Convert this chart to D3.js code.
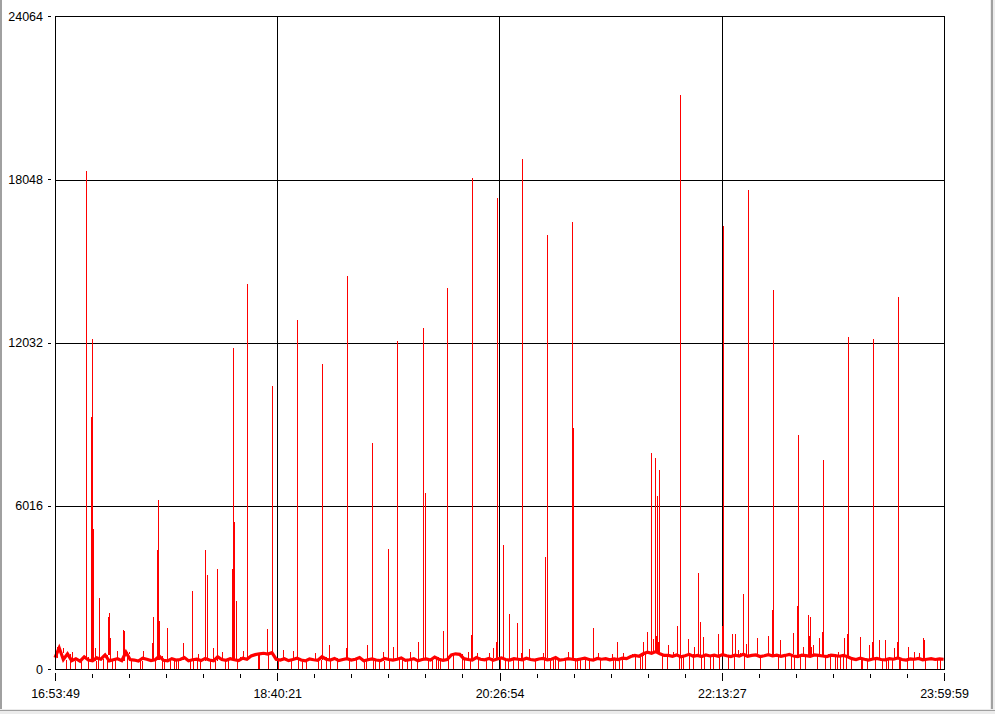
<!DOCTYPE html>
<html><head><meta charset="utf-8">
<script src="https://cdn.jsdelivr.net/npm/d3@7"></script>
<style>
html,body{margin:0;padding:0;background:#fff;}
svg{display:block;}
text{font-family:"Liberation Sans",Arial,sans-serif;font-size:12.5px;fill:#000;}
</style></head><body>
<svg id="chart" width="995" height="714"></svg>
<script>
// ---- data ----
const startTime = "16:53:49";
const sampleStepSec = 120;
const baseValues = [
420,780,350,560,310,380,290,450,330,300,
410,360,520,300,340,380,310,620,350,330,
290,400,360,310,340,470,320,300,380,330,
350,420,300,340,360,310,390,330,300,450,
350,320,380,340,310,400,360,
480,530,560,580,550,600,
360,330,380,310,350,400,330,300,370,340,
320,450,360,330,390,310,350,380,330,360,
420,300,340,370,330,310,390,350,330,360,
410,320,340,380,300,350,370,330,440,360,
320,350,
520,560,540,
380,350,330,420,360,340,390,320,370,410,
350,330,380,360,340,400,350,330,370,390,
340,360,420,330,350,380,360,340,370,400,
350,330,390,360,380,340,370,350,400,380,
460,500,470,560,620,580,640,560,500,
500,470,520,450,490,540,470,500,460,520,
480,510,470,530,490,460,510,480,540,470,
500,520,460,490,530,480,510,470,500,540,
480,460,510,490,470,520,500,480,460,510,
490,470,500,450,
380,350,400,360,330,370,390,350,340,380,
360,410,350,330,370,360,390,340,360,380,
350,370,360
];
const eventSec = [
58,230,316,431,489,575,748,892,949,1035,1064,1093,1150,1179,1237,1265,1380,1496,1524,1553,
1582,1639,1726,1783,1956,1984,2071,2128,2186,2445,2502,2531,2790,2818,2876,2934,2962,2991,3077,3135,
3221,3307,3422,3480,3537,3681,3883,3940,3969,4084,4113,4170,4314,4372,4458,4544,4602,4659,4803,4889,
4975,5091,5119,5148,5206,5234,5321,5407,5522,5838,5867,6097,6126,6241,6413,6557,6787,6845,6960,6989,
7104,7219,7478,7564,7650,7679,7794,7880,7909,8110,8369,8398,8455,8657,8887,8945,8973,9117,9146,9203,
9318,9433,9462,9577,9606,9721,9836,9893,9980,10124,10210,10239,10411,10440,10584,10641,10727,10843,10958,11015,
11073,11159,11274,11303,11447,11706,11763,11878,11936,11964,11993,12137,12165,12396,12482,12568,12597,12683,12712,12798,
12884,12942,13028,13057,13172,13287,13316,13402,13431,13460,13632,13805,14035,14064,14092,14150,14236,14322,14380,14466,
14668,14754,14869,14898,14955,15013,15099,15243,15358,15473,15617,15674,16019,16048,16106,16163,16221,16307,16336,16595,
16681,16825,16882,16911,16968,17026,17141,17199,17256,17285,17314,17342,17371,17457,17601,17630,17774,17889,17946,17975,
18004,18061,18205,18234,18349,18378,18493,18550,18579,18637,18665,18838,18924,19068,19097,19183,19212,19355,19471,19528,
19557,19643,19701,19787,19816,19873,19931,20190,20276,20506,20621,20650,20793,20851,20995,21167,21225,21254,21340,21369,
21426,21512,21570,21656,21685,21714,21743,21800,21915,21973,22059,22088,22145,22232,22289,22433,22490,22519,22577,22663,
22692,22749,22778,22807,22893,23152,23181,23209,23353,23409,23497,23526,23583,23698,23785,23871,23900,23957,24072,24130,
24216,24245,24273,24302,24504,24532,24676,24705,24849,24964,24993,25021,25367,25453,25570
];
const eventValues = [
810,590,0,0,630,0,0,18352,0,9290,12160,5160,770,0,0,2620,0,0,1920,2060,
1140,0,0,660,1440,1400,0,560,0,0,0,650,960,1920,0,4385,6230,1770,0,0,
1510,0,0,0,0,960,0,2870,0,0,560,0,4385,3460,0,770,0,3680,620,0,
0,3680,11830,5420,2500,0,450,660,14190,0,0,1470,0,10430,0,700,0,680,12860,0,
0,0,590,0,0,11240,0,880,0,0,770,14480,0,0,0,0,880,8330,0,0,
0,640,0,4420,0,810,12090,0,0,0,630,0,0,1000,12570,6490,0,0,0,0,
0,1400,14040,0,0,0,0,630,0,1250,18090,600,0,0,600,0,770,1000,17360,0,
4570,0,0,2030,0,1700,0,600,18790,0,740,0,600,0,4130,15990,0,0,0,0,
0,640,16470,8880,0,0,0,0,0,1510,600,0,560,0,0,1000,0,0,600,560,
0,0,0,1000,0,1360,7960,1100,7780,1200,6380,1000,7330,0,0,880,640,1580,0,21150,
0,0,1100,0,0,800,3540,1730,0,1180,0,0,0,1290,0,1580,16320,0,1290,0,
1290,700,600,2760,0,920,17650,1140,0,1220,2180,13970,0,1070,0,0,1330,0,2320,8620,
0,800,0,1990,1200,1920,800,900,0,1140,1360,7700,0,560,0,0,0,640,0,0,
1140,0,1290,12230,0,1180,0,0,0,880,1000,12160,0,1070,0,1070,0,0,0,780,
1000,13710,0,0,0,800,0,640,600,1140,1070,0,0,0,660
];
const yTickValues = [0, 6016, 12032, 18048, 24064];
const xTickLabels = ["16:53:49", "18:40:21", "20:26:54", "22:13:27", "23:59:59"];

// ---- build ----
const parse = d3.timeParse("%H:%M:%S");
const t0 = parse(startTime);
const toDate = s => new Date(t0.getTime() + s * 1000);
const xTickDates = xTickLabels.map(parse);

const L = 55, R = 944, T = 16, B = 669;
const x = d3.scaleTime().domain([xTickDates[0], xTickDates[xTickDates.length - 1]]).range([L, R]);
const y = d3.scaleLinear().domain([0, yTickValues[yTickValues.length - 1]]).range([B, T]);

const baseSeries = baseValues.map((v, i) => ({ t: toDate(i * sampleStepSec), v }));
const events = eventSec.map((s, i) => ({
  t: toDate(s), v: eventValues[i],
  b: baseValues[Math.min(baseValues.length - 1, Math.floor(s / sampleStepSec))]
}));

const svg = d3.select("#chart");
svg.append("rect").attr("width", 995).attr("height", 714).attr("fill", "#fff");

// gridlines
const g = svg.append("g").attr("shape-rendering", "crispEdges");
g.selectAll(".hg").data(yTickValues.slice(1, -1)).join("line")
  .attr("x1", L).attr("x2", R).attr("y1", d => Math.ceil(y(d)) + 0.5).attr("y2", d => Math.ceil(y(d)) + 0.5)
  .attr("stroke", "#000");
g.selectAll(".vg").data(xTickDates.slice(1, -1)).join("line")
  .attr("y1", T).attr("y2", B).attr("x1", d => Math.round(x(d) - 0.01) + 0.5).attr("x2", d => Math.round(x(d) - 0.01) + 0.5)
  .attr("stroke", "#000");

// data: sampled level + sharp excursions
svg.append("path").datum(baseSeries)
  .attr("d", d3.line().x(d => x(d.t)).y(d => y(d.v)))
  .attr("fill", "none").attr("stroke", "#ff0000").attr("stroke-width", 3.2).attr("stroke-linejoin", "miter");
svg.append("g").attr("shape-rendering", "crispEdges")
  .selectAll("line").data(events).join("line")
  .attr("x1", d => Math.round(x(d.t)) + 0.5).attr("x2", d => Math.round(x(d.t)) + 0.5)
  .attr("y1", d => y(d.b)).attr("y2", d => y(d.v))
  .attr("stroke", "#ff0000").attr("stroke-width", 1);

// frame
svg.append("rect").attr("x", L + 0.5).attr("y", T + 0.5).attr("width", R - L).attr("height", B - T)
  .attr("fill", "none").attr("stroke", "#000").attr("shape-rendering", "crispEdges");

// y axis
const yMinor = d3.range(0, 25).map(i => i * yTickValues[4] / 24);
const yAx = svg.append("g").attr("transform", "translate(51,0)");
yAx.call(d3.axisLeft(y).tickValues(yMinor).tickSize(3).tickFormat(""));
yAx.call(d3.axisLeft(y).tickValues(yTickValues).tickSize(3).tickPadding(5).tickFormat(d3.format("d")));
yAx.selectAll(".domain").remove();
yAx.selectAll("line").attr("stroke", "#000").attr("shape-rendering", "crispEdges");
yAx.selectAll("text").attr("fill", "#000").style("font-size", "12.5px").style("font-family", "'Liberation Sans',Arial,sans-serif");

// x axis
const span = xTickDates[4] - xTickDates[0];
const xMinor = d3.range(0, 25).map(i => new Date(+xTickDates[0] + i * span / 24));
const xAxMinor = svg.append("g").attr("transform", "translate(0,674)");
xAxMinor.call(d3.axisBottom(x).tickValues(xMinor).tickSize(4).tickFormat(""));
const xAx = svg.append("g").attr("transform", "translate(0,673)");
xAx.call(d3.axisBottom(x).tickValues(xTickDates).tickSize(8).tickPadding(8).tickFormat((d, i) => xTickLabels[i]));
svg.selectAll(".domain").remove();
[xAx, xAxMinor].forEach(a => a.selectAll("line").attr("stroke", "#000").attr("shape-rendering", "crispEdges"));
xAx.selectAll("text").attr("fill", "#000").style("font-size", "12.5px").style("font-family", "'Liberation Sans',Arial,sans-serif");

// window chrome
svg.append("rect").attr("x", 0).attr("y", 0).attr("width", 2).attr("height", 714).attr("fill", "#a0a0a0");
svg.append("rect").attr("x", 990).attr("y", 0).attr("width", 5).attr("height", 714).attr("fill", "#ececec");
svg.append("rect").attr("x", 991).attr("y", 0).attr("width", 2).attr("height", 714).attr("fill", "#a0a0a0");
svg.append("rect").attr("x", 0).attr("y", 709).attr("width", 995).attr("height", 5).attr("fill", "#ececec");
svg.append("rect").attr("x", 0).attr("y", 710).attr("width", 995).attr("height", 1).attr("fill", "#a0a0a0");
</script></body></html>
